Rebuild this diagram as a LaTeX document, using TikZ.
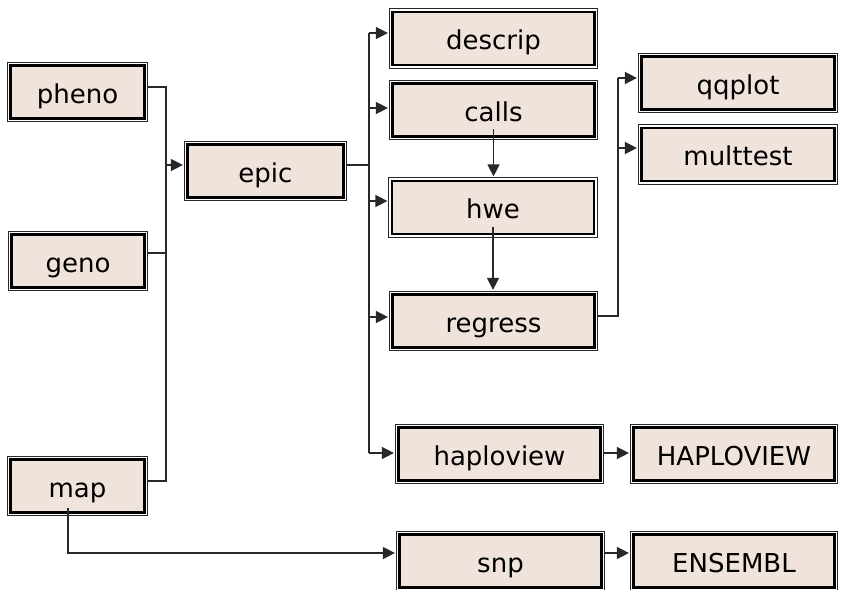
\documentclass[tikz,border=0pt]{standalone}
\usepackage{fontspec}
\setmainfont{DejaVu Sans}
\usetikzlibrary{arrows.meta,calc,backgrounds}
\definecolor{boxfill}{RGB}{239,227,219}
\definecolor{linec}{RGB}{40,40,40}
\begin{document}
\begin{tikzpicture}[x=1pt,y=-1pt,
  box/.style={rectangle, fill=boxfill, draw=black, line width=2.2pt, inner sep=0pt,
    preaction={draw=linec, line width=7.8pt},
    preaction={draw=white, line width=5.2pt},
    text height=22pt, text depth=0pt,
    font=\fontsize{26}{30}\selectfont, text=black},
  wbox/.style={box, minimum width=202pt, minimum height=53pt},
  conn/.style={draw=linec, line width=1.4pt},
  arr/.style={conn, -{Triangle[length=12pt,width=12pt]}, shorten >=3.5pt}]
\useasboundingbox (0,0) rectangle (842,589);

% left column
\node[box, minimum width=134pt, minimum height=53pt] (pheno) at (77.5,92) {pheno};
\node[box, minimum width=133pt, minimum height=53pt] (geno) at (78,261) {geno};
\node[box, minimum width=134pt, minimum height=53pt] (map) at (77.5,486) {map};
% epic
\node[box, minimum width=156pt, minimum height=53pt] (epic) at (265.5,171) {epic};
% middle column
\node[wbox] (descrip) at (493.5,38.5) {descrip};
\node[wbox] (calls) at (493.5,110) {calls};
\node[wbox] (hwe) at (493,207.5) {hwe};
\node[wbox] (regress) at (493.5,321) {regress};
\node[wbox] (haploview) at (499.5,454) {haploview};
\node[wbox] (snp) at (500.5,561) {snp};
% right column
\node[box, minimum width=193pt, minimum height=53pt] (qqplot) at (738,83) {qqplot};
\node[box, minimum width=193pt, minimum height=53pt] (multtest) at (738,154.5) {multtest};
\node[box, minimum width=201pt, minimum height=53pt] (HAPLO) at (734,454) {HAPLOVIEW};
\node[box, minimum width=201pt, minimum height=53pt] (ensembl) at (734,561) {ENSEMBL};

% ports
\coordinate (busL) at (166,165);
\coordinate (busE) at (369,165);
\coordinate (busR) at (618,316);
\coordinate (pP) at ([yshift=5pt]pheno.east);
\coordinate (gP) at ([yshift=8pt]geno.east);
\coordinate (mP) at ([yshift=5pt]map.east);
\coordinate (eP) at ([yshift=6pt]epic.east);
\coordinate (dA) at ([yshift=5.5pt]descrip.west);
\coordinate (cA) at ([yshift=2pt]calls.west);
\coordinate (hA) at ([yshift=6.5pt]hwe.west);
\coordinate (rA) at ([yshift=4pt]regress.west);
\coordinate (haA) at ([yshift=1pt]haploview.west);
\coordinate (rP) at ([yshift=5pt]regress.east);
\coordinate (qA) at ([yshift=5pt]qqplot.west);
\coordinate (mtA) at ([yshift=6.5pt]multtest.west);
\coordinate (hvP) at ([yshift=1pt]haploview.east);
\coordinate (sA) at ([yshift=8pt]snp.west);
\coordinate (snP) at ([yshift=8pt]snp.east);

\begin{scope}[on background layer]
  \fill[white] (0,0) rectangle (842,589);
  % inputs to epic
  \draw[conn] (pP) -- (pP -| busL) -- (mP -| busL) -- (mP);
  \draw[conn] (gP) -- (gP -| busL);
  \draw[arr] (busL) -- (busL -| epic.west);
  % epic bus
  \draw[conn] (eP) -- (busE);
  \draw[conn] (dA -| busE) -- (haA -| busE);
  \draw[arr] (dA -| busE) -- (dA);
  \draw[arr] (cA -| busE) -- (cA);
  \draw[arr] (hA -| busE) -- (hA);
  \draw[arr] (rA -| busE) -- (rA);
  \draw[arr] (haA -| busE) -- (haA);
  % regress bus
  \draw[conn] (rP) -- (busR) -- (qA -| busR);
  \draw[arr] (qA -| busR) -- (qA);
  \draw[arr] (mtA -| busR) -- (mtA);
  % right links
  \draw[arr] (hvP) -- (hvP -| HAPLO.west);
  \draw[arr] (snP) -- (snP -| ensembl.west);
\end{scope}

% links starting inside boxes
\draw[arr] ([yshift=8.5pt]calls.south) -- (calls.south |- hwe.north);
\draw[arr] ([yshift=8.5pt]hwe.south) -- (hwe.south |- regress.north);
\draw[arr] ([xshift=-9.5pt,yshift=5.5pt]map.south) |- (sA);
\end{tikzpicture}
\end{document}
